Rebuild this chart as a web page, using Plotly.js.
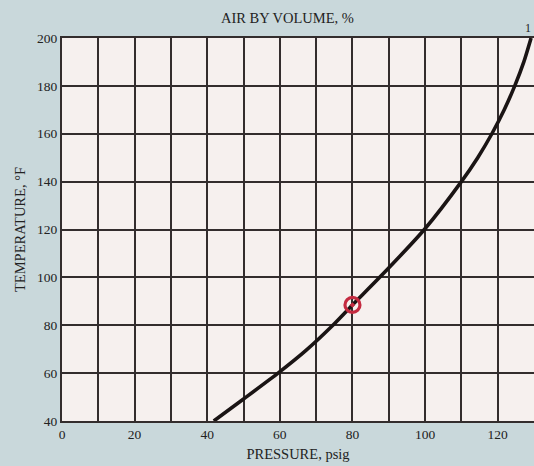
<!DOCTYPE html>
<html>
<head>
<meta charset="utf-8">
<script src="https://cdn.plot.ly/plotly-3.0.1.min.js"></script>
<style>html,body{margin:0;padding:0;background:#c9d8db;}#chart{width:534px;height:466px;}</style>
</head>
<body>
<div id="chart"></div>
<script>
// Curve: temperature vs pressure
const pressure = [41.8, 50, 59.5, 67.2, 74.6, 80, 87.5, 99.8, 110, 114.5, 118.4, 121.8, 124.7, 127.2, 129.2];
const temperature = [40, 49.2, 60, 69.5, 80, 88.5, 100, 120, 140, 150, 160, 170, 180, 190, 200];
// Marked point
const markP = [80];
const markT = [88.5];
// Ticks
const xTickVals = [0, 20, 40, 60, 80, 100, 120];
const yTickVals = [40, 60, 80, 100, 120, 140, 160, 180, 200];
const titleTop = "AIR BY VOLUME, %";
const topTickLabel = "1";

const serif = "Liberation Serif";

const traces = [
  {
    x: pressure, y: temperature, type: 'scatter', mode: 'lines',
    line: {color: '#1a1414', width: 3.6, shape: 'spline', smoothing: 0.6},
    hoverinfo: 'skip', showlegend: false
  },
  {
    x: markP, y: markT, type: 'scatter', mode: 'markers',
    marker: {symbol: 'circle-open-dot', size: 15, color: '#c42a40', line: {color: '#c42a40', width: 3.2}},
    showlegend: false
  }
];

const gridCol = '#332d2d';
const layout = {
  width: 534, height: 466,
  margin: {l: 62, r: 0, t: 38, b: 45, pad: 0},
  paper_bgcolor: '#c9d8db',
  plot_bgcolor: '#f6f0ee',
  font: {family: serif, color: '#222', size: 13},
  xaxis: {
    range: [0, 130], tickvals: xTickVals, ticks: '', showgrid: true,
    gridcolor: gridCol, gridwidth: 2, zeroline: false,
    showline: true, linecolor: gridCol, linewidth: 2, mirror: true,
    minor: {dtick: 10, tick0: 0, showgrid: true, gridcolor: gridCol, gridwidth: 2, ticks: ''},
    tickfont: {family: serif, size: 13.5, color: '#222'},
    title: {text: 'PRESSURE, psig', font: {family: serif, size: 14.5, color: '#222'}, standoff: 8}
  },
  yaxis: {
    range: [40, 200], tickvals: yTickVals, ticks: '', showgrid: true,
    gridcolor: gridCol, gridwidth: 2, zeroline: false,
    showline: true, linecolor: gridCol, linewidth: 2, mirror: true,
    tickfont: {family: serif, size: 13.5, color: '#222'},
    title: {text: 'TEMPERATURE, °F', font: {family: serif, size: 14.5, color: '#222'}, standoff: 8}
  },
  annotations: [
    {text: titleTop, xref: 'paper', yref: 'paper', x: 0.477, y: 1.052,
     xanchor: 'center', yanchor: 'middle', showarrow: false,
     font: {family: serif, size: 14.5, color: '#222'}},
    {text: topTickLabel, xref: 'paper', yref: 'paper', x: 0.988, y: 1.026,
     xanchor: 'center', yanchor: 'middle', showarrow: false,
     font: {family: serif, size: 12, color: '#222'}}
  ]
};

Plotly.newPlot('chart', traces, layout, {staticPlot: true, displayModeBar: false});
</script>
</body>
</html>
